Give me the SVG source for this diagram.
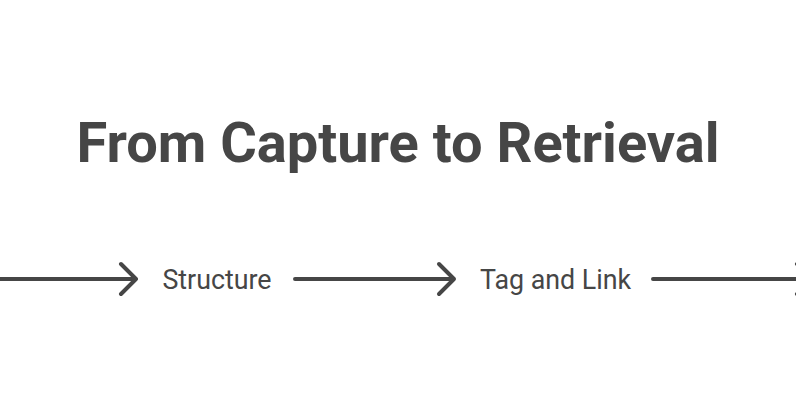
<svg xmlns="http://www.w3.org/2000/svg" width="796" height="405" viewBox="0 0 796 405">
<style>
.t{font-family:Roboto,"Liberation Sans",sans-serif;fill:#464646}
.title{font-size:56px;font-weight:700}
.lbl{font-size:26.8px}
.c{stroke:#464646;stroke-width:4;fill:none;stroke-linecap:round;stroke-linejoin:round}
</style>
<rect width="796" height="405" fill="#fff"/>
<g id="title"><text class="t title" x="398" y="162" text-anchor="middle">From Capture to Retrieval</text></g>
<g id="structure"><text class="t lbl" x="217" y="288.5" text-anchor="middle">Structure</text></g>
<g id="tag-and-link"><text class="t lbl" x="555.5" y="288.5" text-anchor="middle">Tag and Link</text></g>
<g id="connectors">
<path class="c" d="M-2 279H136M121 264L136 279L121 294"/>
<path class="c" d="M295 279H454M439 264L454 279L439 294"/>
<path class="c" d="M653 279H812M797 264L812 279L797 294"/>
</g>
</svg>
